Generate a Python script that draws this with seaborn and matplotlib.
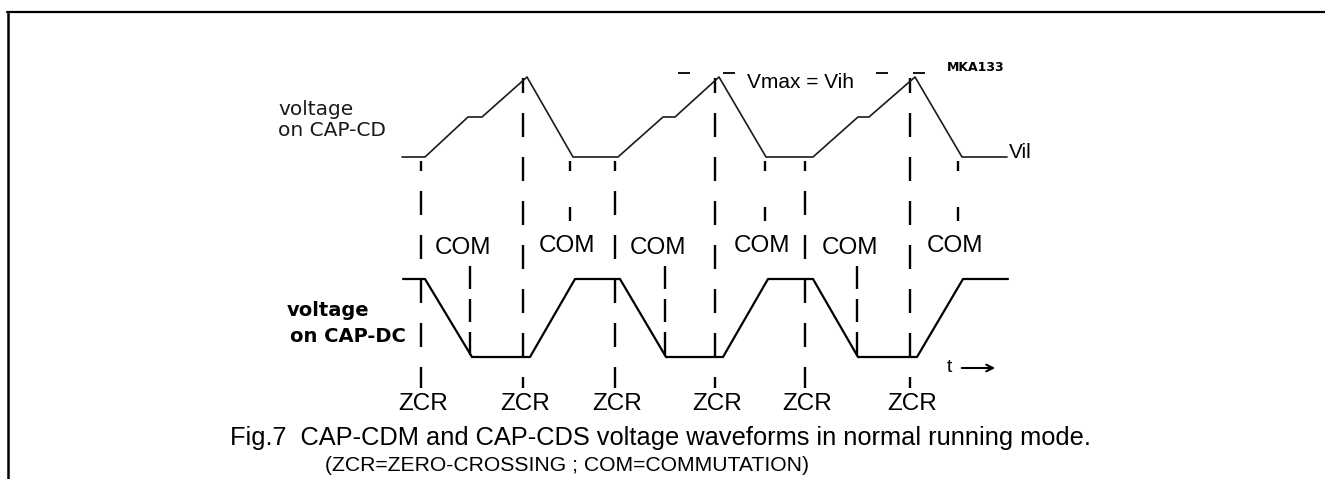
import matplotlib
matplotlib.use('Agg')
import matplotlib.pyplot as plt
import seaborn as sns
import pandas as pd

# --- waveform data (time in arbitrary units, voltage normalised 0..1)
cd_t = [0.79, 1.02, 1.45, 1.59, 2.04, 2.50, 2.95, 3.40, 3.52, 3.96,
        4.43, 4.90, 5.35, 5.46, 5.92, 6.39, 6.84]
cd_v = [0, 0, 0.5, 0.5, 1, 0, 0, 0.5, 0.5, 1, 0, 0, 0.5, 0.5, 1, 0, 0]

dc_t = [0.80, 1.02, 1.49, 2.07, 2.52, 2.97, 3.43, 4.00, 4.45, 4.90,
        5.35, 5.94, 6.40, 6.85]
dc_v = [1, 1, 0, 0, 1, 1, 0, 0, 1, 1, 0, 0, 1, 1]

zcr_t = [0.98, 2.00, 2.92, 3.92, 4.82, 5.87]
zcr_on_peak = [False, True, False, True, False, True]
com_hi_t = [2.47, 4.42, 6.35]   # CAP-CD reaches Vil
com_lo_t = [1.47, 3.42, 5.34]   # CAP-DC reaches low level

zcr_label = 'ZCR'
com_label = 'COM'

# --- layout (pixels)
W, H = 1325, 479
T0_PX, PX_PER_T = 323, 100
XLIM = ((0 - T0_PX) / PX_PER_T, (W - T0_PX) / PX_PER_T)
PT = 72 / 100  # points per pixel


def tx(px):
    return (px - T0_PX) / PX_PER_T


sns.set_theme(style='white')
plt.rcParams['font.family'] = ['Liberation Sans', 'DejaVu Sans']
plt.rcParams['text.color'] = 'black'
plt.rcParams['lines.scale_dashes'] = False

fig = plt.figure(figsize=(W / 100, H / 100), dpi=100)

# base axes in pixel units for frame, guide lines and labels
ax = fig.add_axes([0, 0, 1, 1])
ax.set_xlim(*XLIM)
ax.set_ylim(H, 0)
ax.axis('off')


def band(y_top, y_bot):
    a = fig.add_axes([0, (H - y_bot) / H, 1, (y_bot - y_top) / H])
    a.set_xlim(*XLIM)
    a.set_ylim(0, 1)
    a.axis('off')
    a.patch.set_alpha(0)
    return a


ax_cd = band(77, 157)
ax_dc = band(279, 357)

cd = pd.DataFrame({'t': cd_t, 'v': cd_v})
dc = pd.DataFrame({'t': dc_t, 'v': dc_v})
sns.lineplot(data=cd, x='t', y='v', ax=ax_cd, sort=False, color='#1a1a1a',
             lw=1.2, clip_on=False)
sns.lineplot(data=dc, x='t', y='v', ax=ax_dc, sort=False, color='black',
             lw=1.6, clip_on=False)
for a in (ax_cd, ax_dc):
    a.set_xlabel('')
    a.set_ylabel('')

# frame
ax.plot([tx(7), XLIM[1]], [12, 12], color='black', lw=1.6, clip_on=False)
ax.plot([tx(8), tx(8)], [12, H], color='black', lw=1.8, clip_on=False)

# ZCR dashed lines
for t, peak in zip(zcr_t, zcr_on_peak):
    y0 = 78 if peak else 161
    off = 9 if peak else 14
    ax.vlines(t, y0, 388, color='black', lw=1.7,
              linestyles=[(off * PT, (24 * PT, 20 * PT))])
    ax.text(t + 0.02, 404, zcr_label, ha='center', va='center', fontsize=17.5)

# COM lines (upper short ticks and lower dashed lines)
for t in com_hi_t:
    ax.vlines(t, 161, 221, color='black', lw=1.7,
              linestyles=[(0, (10 * PT, 36 * PT, 14 * PT, 40 * PT))])
    ax.text(t - 0.03, 246, com_label, ha='center', va='center', fontsize=17.5)
for t in com_lo_t:
    ax.vlines(t, 266, 357, color='black', lw=1.7,
              linestyles=[(0, (23 * PT, 10 * PT))])
    ax.text(t - 0.07, 248, com_label, ha='center', va='center', fontsize=17.5)

# Vih level dashes
ax_cd.hlines(1.05, tx(678), tx(736), color='black', lw=1.3,
             linestyles=[(0, (12 * PT, 33 * PT))], clip_on=False)
ax_cd.hlines(1.05, tx(876), tx(928), color='black', lw=1.3,
             linestyles=[(0, (12 * PT, 25 * PT))], clip_on=False)
ax.text(tx(747), 82, 'Vmax = Vih', ha='left', va='center', fontsize=15)
ax.text(tx(947), 67, 'MKA133', ha='left', va='center', fontsize=9,
        fontweight='bold', family='DejaVu Sans')
ax.text(tx(1009), 158, 'Vil', ha='left', va='baseline', fontsize=15)

# signal names
ax.text(tx(278), 109, 'voltage', ha='left', va='center',
        fontsize=14.5, family='DejaVu Sans', color='#1a1a1a')
ax.text(tx(278), 130, 'on CAP-CD', ha='left', va='center',
        fontsize=14.5, family='DejaVu Sans', color='#1a1a1a')
ax.text(tx(287), 311, 'voltage', ha='left', va='center',
        fontsize=14, family='DejaVu Sans', fontweight='bold')
ax.text(tx(290), 336, 'on CAP-DC', ha='left', va='center',
        fontsize=14, family='DejaVu Sans', fontweight='bold')

# time arrow
ax.text(tx(947), 367, 't', ha='left', va='center', fontsize=14)
ax.annotate('', xy=(tx(998), 368), xytext=(tx(959), 368),
            arrowprops=dict(arrowstyle='->', color='black', lw=1.5))

# caption
ax.text(tx(230), 445,
        'Fig.7  CAP-CDM and CAP-CDS voltage waveforms in normal running mode.',
        ha='left', va='baseline', fontsize=18.3)
ax.text(tx(567), 471, '(ZCR=ZERO-CROSSING ; COM=COMMUTATION)',
        ha='center', va='baseline', fontsize=15.2)

fig.savefig('out.png', dpi=100)
